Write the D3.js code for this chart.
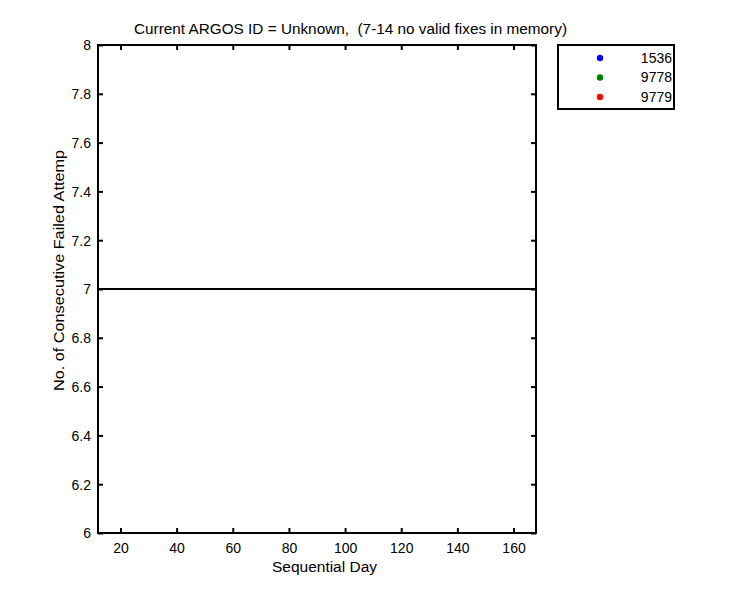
<!DOCTYPE html>
<html><head><meta charset="utf-8">
<script src="https://cdn.jsdelivr.net/npm/d3@7"></script>
<style>body{margin:0;background:#fff}text{font-family:"Liberation Sans",Arial,sans-serif;}</style>
</head><body>
<svg id="c" width="750" height="600"></svg>
<script>
const xDomain = [12, 168];
const yDomain = [6, 8];
const xTicks = [20, 40, 60, 80, 100, 120, 140, 160];
const yTicks = [6, 6.2, 6.4, 6.6, 6.8, 7, 7.2, 7.4, 7.6, 7.8, 8];
const lineX = [12, 168];
const lineY = [7, 7];
const legendIds = ["1536", "9778", "9779"];
const legendColors = ["#0000ff", "#008000", "#ff0000"];
const title = "Current ARGOS ID = Unknown,  (7-14 no valid fixes in memory)";

const svg = d3.select("#c");
const L = 98, R = 536, T = 45, B = 533;
const x = d3.scaleLinear().domain(xDomain).range([L, R]);
const y = d3.scaleLinear().domain(yDomain).range([B, T]);
const fs = 14;

// axes
const ax = svg.append("g").attr("transform", `translate(0,${B})`)
  .call(d3.axisBottom(x).tickValues(xTicks).tickSize(-5).tickPadding(10).tickFormat(d3.format("d")));
const axTop = svg.append("g").attr("transform", `translate(0,${T})`)
  .call(d3.axisTop(x).tickValues(xTicks).tickSize(-5).tickFormat(""));
const ay = svg.append("g").attr("transform", `translate(${L},0)`)
  .call(d3.axisLeft(y).tickValues(yTicks).tickSize(-5).tickPadding(7).tickFormat(d => d3.format("")(+d.toFixed(1))));
const ayR = svg.append("g").attr("transform", `translate(${R},0)`)
  .call(d3.axisRight(y).tickValues(yTicks).tickSize(-5).tickFormat(""));
[ax, axTop, ay, ayR].forEach(g => {
  g.select(".domain").remove();
  g.selectAll("line").attr("stroke", "#000").attr("stroke-width", 2);
  g.selectAll("text").attr("font-size", fs).attr("fill", "#000").attr("font-family", "Liberation Sans, Arial, sans-serif");
});
ay.selectAll("text").attr("dy", "0.35em");

// data line
svg.append("path")
  .datum(lineX.map((v, i) => [v, lineY[i]]))
  .attr("d", d3.line().x(d => x(d[0])).y(d => y(d[1])))
  .attr("fill", "none").attr("stroke", "#000").attr("stroke-width", 2);

// box
svg.append("rect").attr("x", L).attr("y", T).attr("width", R - L).attr("height", B - T)
  .attr("fill", "none").attr("stroke", "#000").attr("stroke-width", 2);

// title & labels
svg.append("text").attr("x", 134).attr("y", 34).attr("text-anchor", "start")
  .attr("xml:space", "preserve").style("white-space", "pre")
  .attr("textLength", 433).attr("lengthAdjust", "spacingAndGlyphs")
  .attr("font-size", fs).text(title);
svg.append("text").attr("x", 272).attr("y", 572).attr("text-anchor", "start")
  .attr("textLength", 105).attr("lengthAdjust", "spacingAndGlyphs")
  .attr("font-size", fs).text("Sequential Day");
svg.append("text").attr("transform", `translate(64,391) rotate(-90)`)
  .attr("text-anchor", "start")
  .attr("textLength", 241).attr("lengthAdjust", "spacingAndGlyphs")
  .attr("font-size", fs).text("No. of Consecutive Failed Attemp");

// legend
const lg = svg.append("g");
lg.append("rect").attr("x", 558).attr("y", 45).attr("width", 116).attr("height", 64)
  .attr("fill", "#fff").attr("stroke", "#000").attr("stroke-width", 2);
legendIds.forEach((id, i) => {
  const cy = 58 + i * 19.5;
  lg.append("circle").attr("cx", 600).attr("cy", cy).attr("r", 3.2).attr("fill", legendColors[i]);
  lg.append("text").attr("x", 672).attr("y", cy).attr("dy", "0.35em").attr("text-anchor", "end")
    .attr("font-size", fs).text(id);
});
</script>
</body></html>
